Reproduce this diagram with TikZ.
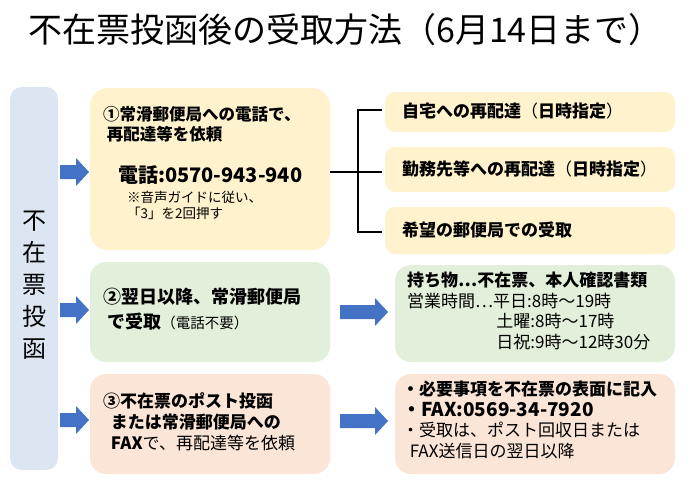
\documentclass[tikz,border=0pt]{standalone}
\usepackage{fontspec}
\setmainfont{Noto Sans CJK JP}
\definecolor{cb}{HTML}{DCE6F2}
\definecolor{cy}{HTML}{FFF2CC}
\definecolor{cg}{HTML}{E2EFDA}
\definecolor{cp}{HTML}{FBE5D6}
\definecolor{ar}{HTML}{4472C4}
\newcommand{\barrow}[3]{\fill[ar] (#1,#3-7) -- (#2-13,#3-7) -- (#2-13,#3-14) -- (#2,#3) -- (#2-13,#3+14) -- (#2-13,#3+7) -- (#1,#3+7) -- cycle;}
\begin{document}
\begin{tikzpicture}[x=1pt,y=-1pt,
 box/.style={rounded corners=12pt,draw=none},
 txt/.style={anchor=north west,align=left,inner sep=0pt,font=\fontsize{16.5}{20}\selectfont\bfseries}]
\useasboundingbox (0,0) rectangle (690,482);
\fill[white] (0,0) rectangle (690,482);
\node[anchor=west,font=\fontsize{34}{36}\selectfont,inner sep=0pt] (title) at (28,30) {不在票投函後の受取方法（6月14日まで）};
\fill[cb,box] (10,87) rectangle (58,470);
\node[font=\fontsize{24}{32}\selectfont,align=center] (v) at (34,285) {不\\在\\票\\投\\函};
\fill[cy,box,rounded corners=18pt] (90,88) rectangle (330,250);
\fill[cg,box,rounded corners=16pt] (90,262) rectangle (330,362);
\fill[cp,box,rounded corners=16pt] (90,374) rectangle (330,474);
\fill[cy,box,rounded corners=10pt] (385,92) rectangle (675,132);
\fill[cy,box,rounded corners=10pt] (385,147) rectangle (675,192);
\fill[cy,box,rounded corners=10pt] (385,207) rectangle (675,254);
\fill[cg,box,rounded corners=16pt] (395,265) rectangle (675,362);
\fill[cp,box,rounded corners=16pt] (395,374) rectangle (675,474);
\barrow{60}{89}{172}
\barrow{60}{89}{310}
\barrow{60}{89}{420}
\barrow{340}{388}{312}
\barrow{340}{388}{421}
\coordinate (b0) at (330,172);
\coordinate (bj) at (358,172);
\coordinate (bt) at (358,110);
\coordinate (bb) at (358,232);
\coordinate (e1) at (382,110);
\coordinate (e2) at (382,172);
\coordinate (e3) at (382,232);
\draw[line width=2.5pt] (b0) -- (bj);
\draw[line width=1.5pt] (e1) -- (bt) -- (bb) -- (e3);
\draw[line width=1.5pt] (bj) -- (e2);
\node[txt] (t1) at (103,106) {①常滑郵便局への電話で、\\\ 再配達等を依頼};
\node[txt,font=\fontsize{20}{22}\selectfont\bfseries] (t1b) at (118,165) {電話:0570-943-940};
\node[txt,font=\fontsize{13.5}{16}\selectfont] (t1c) at (127,191) {※音声ガイドに従い、\\「3」を2回押す};
\node[txt,font=\fontsize{18}{25}\selectfont\bfseries] (t2) at (103,288) {②翌日以降、常滑郵便局\\\ で受取{\mdseries\fontsize{14.5}{16}\selectfont（電話不要）}};
\node[txt,font=\fontsize{17}{21}\selectfont\bfseries] (t3) at (103,392) {③不在票のポスト投函\\\ \ または常滑郵便局への\\\ \ FAX{\mdseries で、再配達等を依頼}};
\node[txt,anchor=west,font=\fontsize{17}{20}\selectfont\bfseries] (r1) at (402,111) {自宅への再配達{\mdseries（}日時指定{\mdseries）}};
\node[txt,anchor=west,font=\fontsize{17}{20}\selectfont\bfseries] (r2) at (402,169) {勤務先等への再配達{\mdseries（}日時指定{\mdseries）}};
\node[txt,anchor=west,font=\fontsize{17}{20}\selectfont\bfseries] (r3) at (402,230) {希望の郵便局での受取};
\node[txt,font=\fontsize{17}{20.5}\selectfont\mdseries] (r4) at (407,272) {{\bfseries 持ち物…不在票、本人確認書類}\\営業時間…平日:8時～19時\\\hspace*{5.25em}土曜:8時～17時\\\hspace*{5.25em}日祝:9時～12時30分};
\node[txt,font=\fontsize{17}{20.5}\selectfont\mdseries] (r5) at (402,381) {{\bfseries ・必要事項を不在票の表面に記入}\\{\bfseries\fontsize{19}{20.5}\selectfont ・FAX:0569-34-7920}\\・受取は、ポスト回収日または\\\ \ FAX送信日の翌日以降};
\end{tikzpicture}
\end{document}
